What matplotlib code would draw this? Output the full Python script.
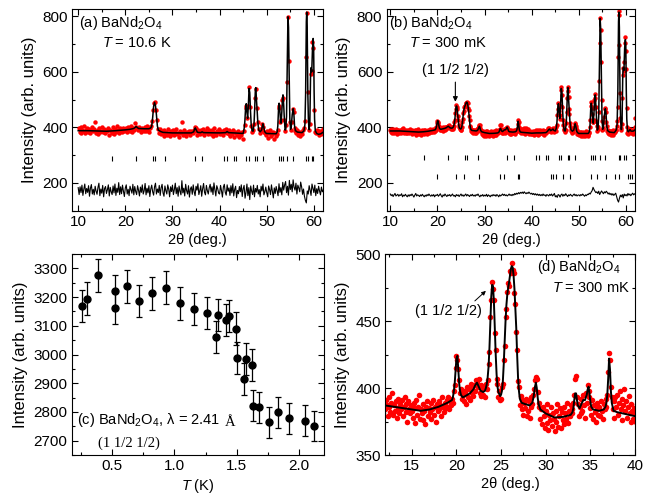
import numpy as np
import matplotlib.pyplot as plt
from matplotlib.ticker import MultipleLocator

plt.rcParams['font.family'] = ['Liberation Sans', 'DejaVu Sans']
plt.rcParams['mathtext.fontset'] = 'custom'
plt.rcParams['mathtext.rm'] = 'Liberation Sans'
plt.rcParams['mathtext.it'] = 'Liberation Sans:italic'
plt.rcParams['font.size'] = 10.5

# --- (a) T = 10.6 K : observed points, 2theta = 10.1, 10.3, ... 61.9 ---
a_obs = np.array("""
396 384 401 379 392 387 405 381 390 398
383 395 378 389 402 386 393 420 380 388
391 376 397 385 388 403 382 394 379 390
386 398 374 392 387 381 400 389 377 395
384 405 390 379 396 388 383 399 386 392
397 384 401 390 388 406 393 385 399 391
415 402 398 389 403 395 384 399 392 388
401 386 395 404 390 383 398 405 423 462
489 492 463 428 393 381 393 376 387 382
370 390 378 385 374 393 380 368 386 377
389 372 383 395 375 381 366 388 379 385
418 373 390 380 369 384 378 387 372 388
385 379 390 401 397 386 372 391 383 376
389 380 394 371 386 383 397 375 390 382
377 391 385 368 396 380 373 388 382 394
376 387 381 372 390 383 394 378 386 375
389 370 382 376 391 367 384 379 372 387
365 380 371 384 358 388 410 470 478 432
476 546 472 404 385 389 412 506 538 468
418 394 380 388 397 412 403 382 379 372
386 362 379 391 368 375 383 357 380 370
377 392 471 476 421 428 497 505 426 388
408 563 797 639 418 391 418 466 455 398
386 379 391 374 385 368 383 377 390 398
423 655 812 528 389 411 592 603 706 687
462 383 379 391 386 372 388 377 383 395
""".split(), float)
a_obs_x = 10.1 + 0.2 * np.arange(len(a_obs))

# calculated profile (a), vertices
a_fit_x = [10.0, 12.0, 14.0, 16.0, 18.0, 20.0, 21.0, 21.8, 22.1, 22.3, 22.5, 22.8,
           24.0, 25.0, 25.4, 25.6, 25.8, 26.0, 26.2, 26.4, 26.6, 26.8, 27.0, 27.5,
           28.0, 30.0, 34.0, 34.5, 34.7, 34.85, 35.0, 35.3, 36.0, 36.3, 36.6, 40.0,
           41.3, 41.6, 41.9, 43.0, 45.0, 45.2, 45.35, 45.5, 45.65, 45.8, 45.95, 46.1,
           46.25, 46.4, 46.55, 46.7, 46.9, 47.1, 47.3, 47.45, 47.6, 47.7, 47.8, 47.95,
           48.1, 48.3, 48.6, 48.9, 49.05, 49.2, 49.35, 49.55, 49.9, 52.0, 52.2, 52.35,
           52.5, 52.62, 52.75, 52.9, 53.05, 53.2, 53.35, 53.45, 53.6, 53.75, 53.9, 54.05,
           54.2, 54.35, 54.5, 54.62, 54.75, 54.9, 55.05, 55.2, 55.4, 55.6, 55.75, 55.9,
           56.1, 56.5, 57.5, 57.9, 58.1, 58.25, 58.4, 58.48, 58.58, 58.72, 58.85, 59.0,
           59.15, 59.3, 59.42, 59.55, 59.7, 59.85, 59.95, 60.05, 60.15, 60.3, 60.6, 61.0,
           61.5, 62.0]
a_fit_y = [388, 388, 387, 386, 388, 391, 393, 396, 400, 403, 400, 396,
           395, 395, 398, 405, 435, 475, 490, 478, 445, 405, 390, 385,
           382, 380, 380, 384, 394, 398, 392, 382, 381, 384, 381, 380,
           381, 385, 381, 380, 378, 395, 420, 465, 485, 455, 432, 478,
           540, 525, 460, 410, 388, 386, 410, 470, 540, 543, 505, 465,
           420, 390, 384, 390, 402, 413, 403, 385, 378, 377, 383, 405,
           465, 487, 470, 430, 415, 455, 505, 517, 480, 425, 390, 395,
           440, 620, 798, 760, 600, 430, 393, 400, 445, 467, 450, 405,
           388, 383, 381, 388, 410, 520, 780, 815, 760, 520, 420, 392,
           420, 590, 615, 600, 680, 720, 690, 530, 430, 388, 378, 375,
           377, 383]

# difference (a), 2theta = 10.0, 10.2, ... 62.0
a_diff = np.array("""
183 158 186 165 192 155 178 196 161 180
166 190 152 181 194 160 177 157 188 170
159 184 199 154 178 163 191 150 180 187
162 176 193 153 184 168 158 189 164 196
155 181 166 201 158 186 161 192 170 151
182 193 160 177 154 188 175 163 195 157
187 169 158 190 174 153 185 166 193 160
172 198 157 181 164 190 151 178 192 168
156 186 199 160 178 165 191 155 183 195
164 152 189 172 160 193 178 150 186 169
192 158 176 199 161 183 152 189 170 157
208 164 181 153 195 172 160 190 149 178
186 159 193 168 154 188 174 197 158 172
190 152 179 198 166 157 191 172 160 183
195 167 186 158 200 175 153 190 179 163
160 191 172 149 185 195 166 156 193 170
182 155 190 164 197 153 177 188 147 173
161 187 168 193 151 179 191 145 166 196
154 183 140 189 170 158 192 150 180 167
191 160 176 150 188 171 196 157 168 185
165 150 189 176 158 193 169 146 182 162
187 172 154 197 166 183 157 202 174 193
205 165 188 156 209 176 195 168 211 184
174 199 160 192 182 168 203 186 159 178
152 137 128 171 160 190 174 155 196 180
165 192 154 179 162 188 171 157 185 168
175
""".split(), float)
a_diff_x = 10.0 + 0.2 * np.arange(len(a_diff))

# --- (b), (d) T = 300 mK : observed points, 2theta = 10.0, 10.1, ... 62.0 ---
b_obs = np.array("""
391 384 393 380 388 395 383 390 379 386
389 382 394 386 377 390 385 392 381 388
384 391 387 379 393 386 382 389 396 380
387 383 390 378 385 392 381 388 384 391
379 386 393 382 388 375 390 384 381 387
383 378 389 385 374 391 380 386 395 377
384 381 376 388 383 373 386 390 379 385
382 389 377 384 391 380 386 375 388 383
390 384 387 379 393 386 382 389 385 391
386 393 384 390 387 392 389 398 402 415
424 421 414 406 396 399 392 395 390 398
397 388 401 393 399 391 403 396 400 394
402 398 406 404 401 407 396 402 394 399
395 400 393 403 399 406 418 427 453 466
479 474 466 441 428 407 403 393 398 391
392 401 403 421 431 453 459 472 478 476
487 486 493 488 486 471 463 442 428 405
401 387 394 384 391 380 389 385 392 379
383 390 378 386 393 388 395 399 406 408
407 397 386 389 377 384 373 386 379 370
383 374 388 369 380 376 386 372 381 377
368 383 375 388 371 379 385 370 382 376
386 373 381 377 389 374 383 379 387 381
384 389 395 407 409 393 388 379 386 381
392 383 395 387 378 396 389 402 398 393
385 380 391 377 387 382 375 389 384 380
386 379 390 383 377 388 384 392 386 395
412 426 421 401 393 384 390 378 393 386
395 380 389 398 384 376 392 387 399 383
390 378 386 394 381 375 388 383 377 385
381 375 388 378 384 372 386 380 391 376
384 379 387 374 389 381 377 390 383 386
378 385 382 376 389 380 386 374 383 388
383 379 387 391 386 397 390 396 388 392
384 391 386 395 390 397 388 393 383 389
390 386 401 409 446 466 487 473 458 431
445 476 534 546 517 474 425 407 389 393
384 392 391 415 455 506 546 532 511 466
449 416 404 388 393 380 389 385 394 398
402 411 416 404 398 384 389 377 383 375
380 372 385 376 370 382 374 379 368 384
373 381 369 378 386 371 380 375 383 370
374 383 381 402 425 476 490 471 449 420
418 428 469 497 520 505 474 423 405 386
395 401 455 566 705 795 752 636 498 424
390 397 393 419 437 465 470 455 421 404
386 391 379 385 376 388 380 374 386 378
383 377 389 372 385 380 388 383 392 390
404 423 475 655 806 818 695 525 433 392
396 411 505 587 615 604 637 705 726 676
610 470 403 380 386 377 392 384 395 386
391 380 388 383 377 390 386 381 393 400
432
""".split(), float)
b_obs_x = 10.0 + 0.1 * np.arange(len(b_obs))

# calculated profile (b, d), vertices
b_fit_x = [10.0, 12.0, 13.0, 14.0, 15.0, 16.0, 17.0, 18.0, 19.0, 19.5, 19.6, 19.7,
           19.8, 19.9, 20.0, 20.1, 20.2, 20.3, 20.4, 20.5, 20.7, 21.0, 21.5, 21.9,
           22.1, 22.3, 22.5, 22.7, 23.0, 23.2, 23.3, 23.4, 23.5, 23.6, 23.7, 23.8,
           23.9, 24.0, 24.1, 24.2, 24.3, 24.4, 24.5, 24.6, 24.7, 24.9, 25.0, 25.1,
           25.2, 25.3, 25.4, 25.5, 25.6, 25.7, 25.8, 25.9, 26.0, 26.1, 26.2, 26.3,
           26.4, 26.5, 26.6, 26.7, 26.8, 26.9, 27.0, 27.1, 27.3, 27.7, 28.2, 28.5,
           28.6, 28.7, 28.8, 28.9, 29.0, 29.1, 29.2, 29.4, 30.0, 31.0, 32.0, 32.8,
           33.0, 33.1, 33.2, 33.3, 33.4, 33.5, 33.6, 33.8, 34.0, 34.2, 34.4, 34.6,
           34.7, 34.8, 34.9, 35.0, 35.1, 35.3, 36.0, 36.5, 36.7, 36.8, 36.9, 37.0,
           37.1, 37.2, 37.3, 37.4, 37.6, 38.0, 39.3, 40.0, 41.0, 42.0, 43.0, 43.3,
           43.6, 43.8, 44.0, 44.3, 44.5, 44.7, 45.0, 45.2, 45.35, 45.5, 45.65, 45.8,
           45.95, 46.1, 46.25, 46.4, 46.55, 46.7, 46.9, 47.1, 47.3, 47.45, 47.6, 47.7,
           47.8, 47.95, 48.1, 48.3, 48.6, 48.9, 49.05, 49.2, 49.35, 49.55, 49.9, 52.0,
           52.2, 52.35, 52.5, 52.62, 52.75, 52.9, 53.05, 53.2, 53.35, 53.45, 53.6, 53.75,
           53.9, 54.05, 54.2, 54.35, 54.5, 54.62, 54.75, 54.9, 55.05, 55.2, 55.4, 55.6,
           55.75, 55.9, 56.1, 56.5, 57.5, 57.9, 58.1, 58.25, 58.4, 58.48, 58.58, 58.72,
           58.85, 59.0, 59.15, 59.3, 59.42, 59.55, 59.7, 59.85, 59.95, 60.05, 60.15, 60.3,
           60.5, 60.7, 60.85, 61.0, 61.3, 61.6, 62.0]
b_fit_y = [387, 387, 386, 385, 384, 383, 384, 386, 389, 391, 393, 397,
           403, 412, 422, 424, 415, 404, 398, 395, 393, 394, 396, 399,
           402, 404, 401, 398, 397, 398, 400, 403, 408, 416, 430, 450,
           468, 477, 476, 464, 445, 425, 410, 401, 397, 394, 395, 398,
           405, 418, 434, 450, 462, 470, 475, 479, 484, 489, 491, 490,
           484, 474, 460, 445, 425, 408, 398, 392, 389, 388, 387, 389,
           392, 396, 401, 404, 400, 393, 388, 384, 381, 378, 378.5, 380,
           382, 385, 391, 396, 396, 391, 387, 385, 388, 391, 391, 395,
           399, 401, 396, 390, 386, 384, 383, 384, 386, 389, 395, 407,
           422, 414, 398, 389, 383, 382, 380, 379, 380, 380, 381, 385,
           392, 394, 388, 391, 394, 389, 387, 397, 420, 465, 485, 455,
           432, 478, 540, 525, 460, 410, 388, 387, 410, 470, 540, 543,
           505, 465, 420, 392, 386, 390, 402, 413, 403, 385, 378, 378,
           384, 405, 465, 487, 470, 430, 415, 455, 505, 517, 480, 425,
           390, 395, 440, 620, 792, 755, 600, 430, 393, 400, 445, 467,
           450, 405, 388, 383, 381, 390, 412, 520, 780, 815, 760, 520,
           420, 392, 420, 590, 615, 605, 685, 716, 690, 530, 430, 388,
           384, 389, 392, 387, 386, 387, 392]

# difference (b), 2theta = 10.0, 10.2, ... 62.0
b_diff = np.array("""
160 154 158 151 157 162 153 156 159 152
157 155 161 150 156 153 159 154 150 157
152 158 154 160 155 149 156 162 153 157
155 151 157 153 159 154 150 156 152 158
154 160 155 152 157 153 158 150 156 155
159 152 156 161 154 149 157 153 160 155
151 157 154 158 152 156 160 153 155 150
158 154 157 151 156 160 153 157 152 156
160 153 158 155 151 157 154 159 153 156
152 158 155 160 154 150 156 153 158 152
156 153 159 151 157 154 150 156 153 158
154 157 152 158 155 150 157 153 156 160
155 159 154 157 153 156 160 155 158 154
159 156 162 158 163 160 165 161 166 163
167 162 168 164 161 165 162 167 163 160
163 158 162 157 161 156 160 155 159 154
158 154 160 155 157 152 158 156 153 159
155 160 153 157 162 150 154 148 158 156
149 157 160 152 158 154 161 156 151 157
154 159 155 152 157 160 154 158 153 156
157 153 158 155 160 156 152 157 154 159
158 163 160 167 172 184 176 170 165 168
162 170 158 165 171 166 161 168 164 170
166 160 164 158 162 156 161 155 159 163
150 138 131 145 156 150 158 146 160 154
158 153 162 156 160 154 159 163 157 161
158
""".split(), float)
b_diff_x = 10.0 + 0.2 * np.arange(len(b_diff))

# Bragg reflection positions (deg.)
nuclear_pos = [17.1, 22.3, 25.9, 26.2, 28.5, 34.7, 36.3, 40.9, 41.6, 43.0, 43.4,
               45.7, 46.2, 47.6, 47.9, 49.2, 52.5, 53.0, 53.5, 54.4, 55.5, 58.4,
               58.8, 59.6, 59.9]
magnetic_pos = [20.0, 23.9, 25.7, 28.9, 33.3, 34.2, 37.0, 37.2, 44.1, 44.6, 45.1,
                46.6, 48.2, 52.6, 53.8, 55.7, 57.6, 58.6, 60.5, 60.9, 61.3]

# --- (c) (1 1/2 1/2) intensity vs temperature ---
c_T = [0.256, 0.30, 0.384, 0.524, 0.524, 0.617, 0.714, 0.82, 0.93, 1.048, 1.156,
       1.258, 1.331, 1.352, 1.417, 1.438, 1.497, 1.505, 1.559, 1.573, 1.618, 1.629,
       1.68, 1.76, 1.833, 1.922, 2.048, 2.118]
c_I = [3169, 3195, 3276, 3221, 3163, 3238, 3186, 3213, 3233, 3178, 3158,
       3145, 3060, 3137, 3119, 3134, 3090, 2988, 2915, 2985, 2964, 2822,
       2817, 2764, 2799, 2778, 2770, 2752]
c_err = [57, 56, 58, 57, 57, 57, 56, 57, 57, 57, 56,
         56, 56, 56, 56, 56, 57, 56, 56, 56, 56, 54,
         54, 54, 54, 54, 54, 53]


def style(ax, xmaj, xmin, ymaj, ymin):
    ax.xaxis.set_major_locator(MultipleLocator(xmaj))
    ax.xaxis.set_minor_locator(MultipleLocator(xmin))
    ax.yaxis.set_major_locator(MultipleLocator(ymaj))
    ax.yaxis.set_minor_locator(MultipleLocator(ymin))
    ax.tick_params(which='both', direction='in', top=True, right=True, width=0.8,
                   pad=3, labelsize=11)
    ax.tick_params(which='major', length=4)
    ax.tick_params(which='minor', length=2)
    for s in ax.spines.values():
        s.set_linewidth(0.8)


fig = plt.figure(figsize=(6.53, 4.94), dpi=100)
ax_a = fig.add_axes([0.1107, 0.5735, 0.3844, 0.4077])
ax_b = fig.add_axes([0.5919, 0.5735, 0.3813, 0.4077])
ax_c = fig.add_axes([0.1098, 0.0789, 0.3864, 0.4069])
ax_d = fig.add_axes([0.5896, 0.0789, 0.3828, 0.4069])

ylab = dict(fontsize=12, labelpad=4)

# (a)
ax_a.plot(a_obs_x, a_obs, 'o', color='red', ms=3.2, mew=0)
ax_a.plot(a_fit_x, a_fit_y, color='black', lw=1.1)
ax_a.plot(a_diff_x, a_diff, color='black', lw=0.8)
ax_a.vlines(nuclear_pos, 279, 296, color='black', lw=0.8)
ax_a.set_xlim(8.75, 62)
ax_a.set_ylim(100, 825)
style(ax_a, 10, 5, 200, 100)
ax_a.text(0.027, 0.933, r'(a) BaNd$_2$O$_4$', transform=ax_a.transAxes, ha='left', va='center')
ax_a.text(0.117, 0.834, r'$T$ = 10.6 K', transform=ax_a.transAxes, ha='left', va='center')

# (b)
ax_b.plot(b_obs_x, b_obs, 'o', color='red', ms=3.2, mew=0)
ax_b.plot(b_fit_x, b_fit_y, color='black', lw=1.1)
ax_b.plot(b_diff_x, b_diff, color='black', lw=0.8)
ax_b.vlines(nuclear_pos, 283, 301, color='black', lw=0.8)
ax_b.vlines(magnetic_pos, 214, 232, color='black', lw=0.8)
ax_b.set_xlim(9.2, 62)
ax_b.set_ylim(100, 825)
style(ax_b, 10, 5, 200, 100)
ax_b.text(0.01, 0.933, r'(b) BaNd$_2$O$_4$', transform=ax_b.transAxes, ha='left', va='center')
ax_b.text(0.092, 0.834, r'$T$ = 300 mK', transform=ax_b.transAxes, ha='left', va='center')
ax_b.annotate('(1 1/2 1/2)', xy=(23.8, 492), xytext=(23.8, 608), ha='center', va='center',
              arrowprops=dict(arrowstyle='-|>', color='black', lw=0.8, mutation_scale=7,
                              shrinkA=2, shrinkB=0))

for ax in (ax_a, ax_b):
    ax.set_xlabel(r'2θ (deg.)', labelpad=3)
    ax.set_ylabel('Intensity (arb. units)', **ylab)

# (c)
ax_c.errorbar(c_T, c_I, yerr=c_err, fmt='o', color='black', ms=5, capsize=2.2,
              elinewidth=0.9, capthick=0.9)
ax_c.set_xlim(0.175, 2.20)
ax_c.set_ylim(2650, 3350)
style(ax_c, 0.5, 0.25, 100, 50)
ax_c.set_xlabel(r'$T$ (K)', labelpad=3)
ax_c.set_ylabel('Intensity (arb. units)', **ylab)
t1 = ax_c.text(0.021, 0.174, r'(c) BaNd$_2$O$_4$, λ = 2.41', transform=ax_c.transAxes,
               ha='left', va='center')
ax_c.annotate('Å', xy=(1, 0), xycoords=t1, xytext=(3, 0), textcoords='offset points',
              ha='left', va='bottom', family='Liberation Serif')
ax_c.text(0.104, 0.06, '(1 1/2 1/2)', transform=ax_c.transAxes, ha='left', va='center',
          family='Liberation Serif')

# (d)
ax_d.plot(b_obs_x, b_obs, 'o', color='red', ms=4, mew=0)
ax_d.plot(b_fit_x, b_fit_y, color='black', lw=1.4)
ax_d.set_xlim(12, 40)
ax_d.set_ylim(350, 500)
style(ax_d, 5, 2.5, 50, 25)
ax_d.set_xlabel(r'2θ (deg.)', labelpad=3)
ax_d.set_ylabel('Intensity (arb. units)', **ylab)
ax_d.text(0.609, 0.934, r'(d) BaNd$_2$O$_4$', transform=ax_d.transAxes, ha='left', va='center')
ax_d.text(0.98, 0.829, r'$T$ = 300 mK', transform=ax_d.transAxes, ha='right', va='center')
ax_d.annotate('(1 1/2 1/2)', xy=(23.3, 472.5), xytext=(19.1, 457.7), ha='center', va='center',
              arrowprops=dict(arrowstyle='-|>', color='black', lw=0.7, mutation_scale=6,
                              shrinkA=0, shrinkB=0, relpos=(0.85, 1.0)))

fig.savefig('out.png', dpi=100)
